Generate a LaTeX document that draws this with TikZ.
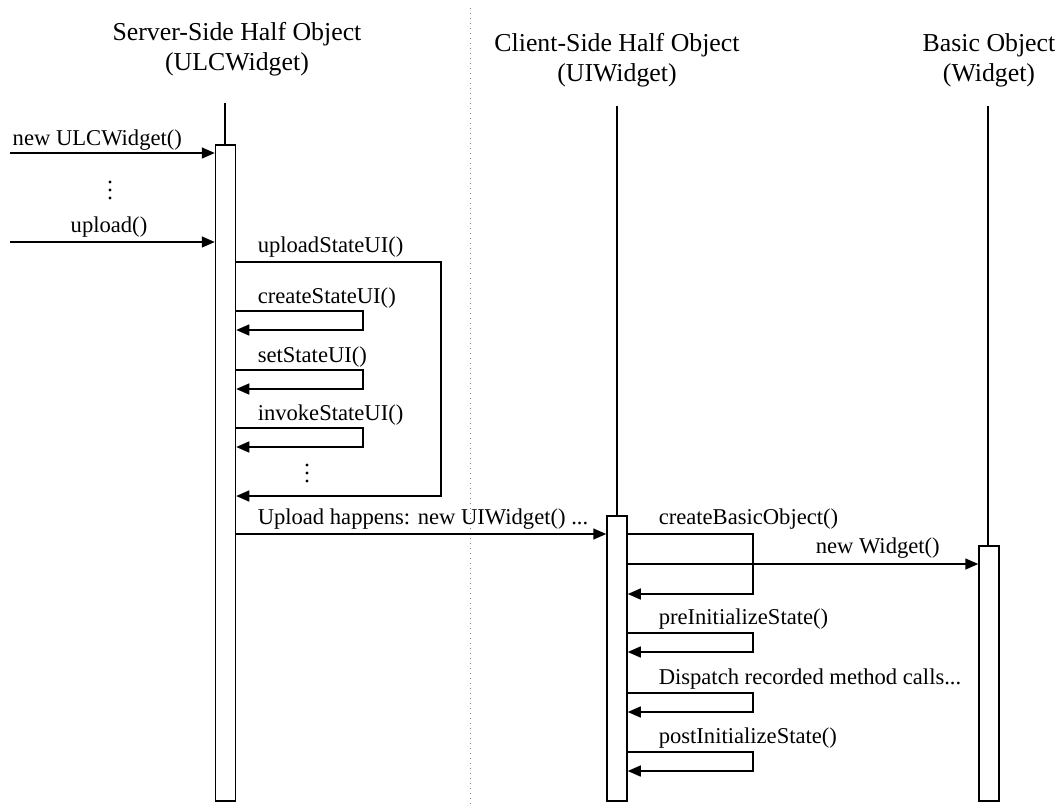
\documentclass[tikz,border=0pt]{standalone}
\usepackage{fontspec}
\setmainfont{Liberation Serif}
\usetikzlibrary{arrows.meta}

\begin{document}
\begin{tikzpicture}[x=0.5pt,y=-0.5pt, line width=0.75pt,
    head/.style={align=center, anchor=north, inner sep=0pt, font=\fontsize{12.9}{15}\selectfont},
    msg/.style={anchor=base west, inner sep=0pt, font=\fontsize{11.3}{13}\selectfont},
    act/.style={draw, fill=white, anchor=north, minimum width=10pt, inner sep=0pt},
    dot/.style={fill, circle, inner sep=0.6pt},
    call/.style={-{Triangle[length=6.5pt,width=5.5pt]}}]

    \useasboundingbox (0,0) rectangle (1061,805);

    % Separator
    \draw[gray, line width=0.5pt, dotted] (470,8) -- (470,805);

    % Heads
    \node[head] (srvhead) at (237,22) {Server-Side Half Object\\(ULCWidget)};
    \node[head] (clihead) at (617,33) {Client-Side Half Object\\(UIWidget)};
    \node[head] (bashead) at (989,33) {Basic Object\\(Widget)};

    % Lifelines
    \draw (225,103) -- (225,150);
    \draw (617,106) -- (617,520);
    \draw (988,106) -- (988,550);
    \node[act, minimum height=328pt] (srvbox) at (225.5,144) {};
    \node[act, minimum height=142.5pt] (clibox) at (617,515) {};
    \node[act, minimum height=127.5pt] (basbox) at (989,545) {};

    % Calls from outside
    \coordinate (newin) at (10,153);
    \coordinate (upin) at (10,242);
    \draw[call] (newin) -- (newin -| srvbox.west);
    \node[msg] (newlbl) at (12,145) {new ULCWidget()};
    \foreach \y in {182,190,198} \node[dot] at (110,\y) {};
    \draw[call] (upin) -- (upin -| srvbox.west);
    \node[msg, anchor=base] (uplbl) at (109,232) {upload()};

    % uploadStateUI
    \coordinate (upc) at (441,262);
    \draw[call] (srvbox.east |- upc) -- (upc) -- (441,496) coordinate (upr) -- (srvbox.east |- upr);
    \node[msg] (upclbl) at (257,252) {uploadStateUI()};
    \foreach \y/\txt in {311/{createStateUI()}, 370/{setStateUI()}, 428/{invokeStateUI()}} {
        \node[msg] at (257,\y-8) {\txt};
        \draw[call] (srvbox.east |- 363,\y) -- (363,\y) -- (363,\y+19) coordinate (ret)
            -- (srvbox.east |- ret);
    }
    \foreach \y in {465,473,481} \node[dot] at (307,\y) {};

    % Upload
    \coordinate (ldc) at (0,534);
    \draw[call] (srvbox.east |- ldc) -- (clibox.west |- ldc);
    \node[msg] (ldlbl) at (257,524) {Upload happens: new UIWidget() ...};

    % createBasicObject
    \draw[call] (clibox.east |- ldc) -- (753,534) -- (753,594) coordinate (cbr) -- (clibox.east |- cbr);
    \node[msg] (cblbl) at (658,524) {createBasicObject()};
    \coordinate (nwc) at (0,564);
    \draw[call] (clibox.east |- nwc) -- (basbox.west |- nwc);
    \node[msg] (nwlbl) at (815,553) {new Widget()};

    \foreach \y/\txt in {633/{preInitializeState()}, 693/{Dispatch recorded method calls...}, 752/{postInitializeState()}} {
        \node[msg] at (658,\y-9) {\txt};
        \draw[call] (clibox.east |- 753,\y) -- (753,\y) -- (753,\y+19) coordinate (ret)
            -- (clibox.east |- ret);
    }
\end{tikzpicture}
\end{document}
